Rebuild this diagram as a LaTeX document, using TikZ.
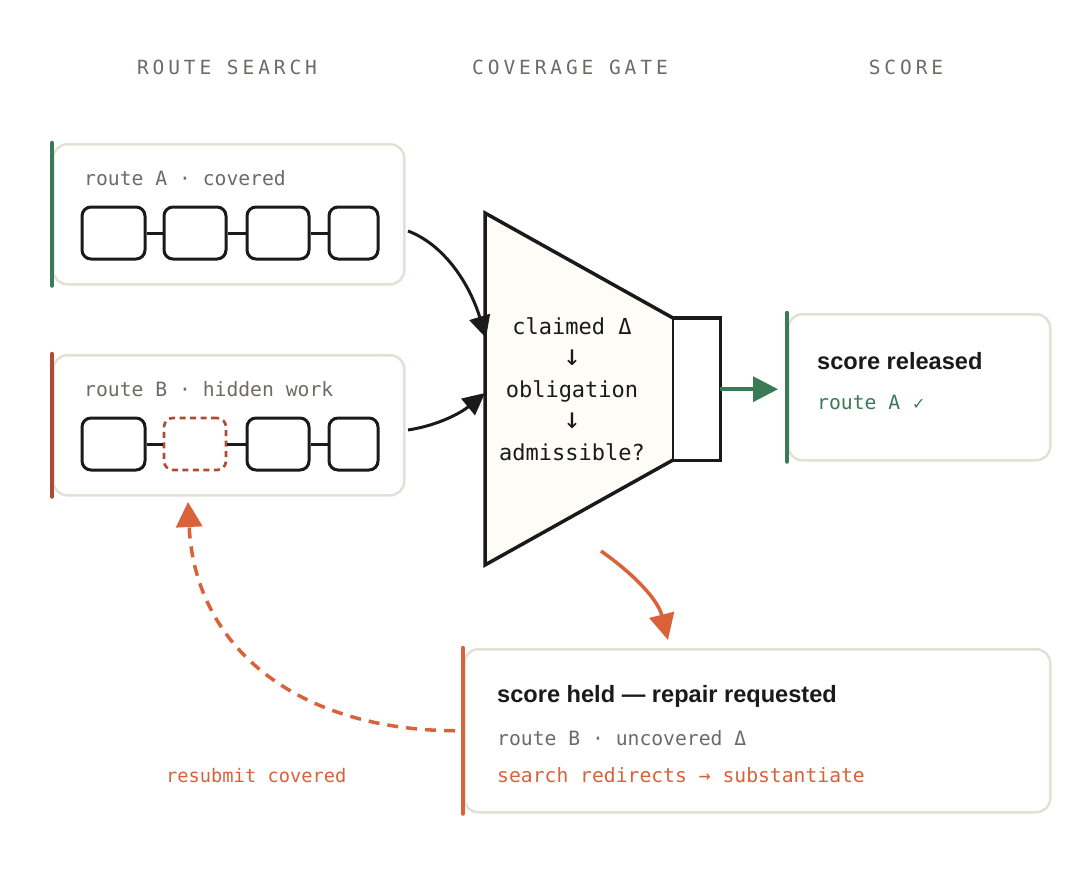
\documentclass[tikz,border=0pt]{standalone}
\usepackage{fontspec}
\setmainfont{Liberation Sans}
\setmonofont{DejaVu Sans Mono}
\newfontfamily\hdrfont[LetterSpace=20]{DejaVu Sans Mono}
\newfontfamily\symfont{DejaVu Sans}
\usetikzlibrary{arrows.meta}
\definecolor{cgreen}{HTML}{3B7A57}
\definecolor{cred}{HTML}{B04A35}
\definecolor{corange}{HTML}{D9623B}
\definecolor{cgray}{HTML}{6E6A66}
\definecolor{cborder}{HTML}{E4E0D6}
\definecolor{cink}{HTML}{1A1A1A}
\definecolor{ccream}{HTML}{FDFCF7}
\newcommand{\bigdown}{{\fontsize{29}{31.5}\selectfont ↓}}
\begin{document}
\begin{tikzpicture}[x=1pt,y=-1pt,
  panel/.style={draw=cborder, line width=2.5pt, rounded corners=14pt, fill=white, inner sep=0pt, anchor=north west},
  chip/.style={draw=cink, line width=3pt, rounded corners=9pt, minimum height=52pt, inner sep=0pt},
  hidchip/.style={draw=cred, line width=2.6pt, dash pattern=on 6pt off 4.5pt, rounded corners=9pt, minimum height=52pt, inner sep=0pt},
  link/.style={draw=cink, line width=3pt},
  bar/.style={line width=4.5pt, line cap=round},
  hdr/.style={text=cgray, font=\hdrfont\fontsize{19.5}{21}\selectfont, inner sep=0pt},
  mono/.style={font=\ttfamily\fontsize{19.7}{22}\selectfont, inner sep=0pt, anchor=west},
  title/.style={font=\bfseries\fontsize{23.6}{26}\selectfont, text=cink, inner sep=0pt, anchor=west},
  blackarrow/.style={draw=cink, line width=3pt, -{Triangle[length=22pt,width=21pt]}},
]
\useasboundingbox (0,0) rectangle (1088,884);
\fill[white] (0,0) rectangle (1088,884);

% headers
\node[hdr] (h1) at (227,67) {ROUTE SEARCH};
\node[hdr] (h2) at (570,67) {COVERAGE GATE};
\node[hdr] (h3) at (906,67) {SCORE};

% route A
\node[panel, minimum width=351pt, minimum height=140pt] (ra) at (52,143) {};
\draw[bar, cgreen] (ra.north west) -- (ra.south west);
\node[mono, text=cgray] (ral) at (84,178) {route A · covered};
\node[chip, minimum width=63pt] (a1) at (113.5,233) {};
\node[chip, minimum width=62pt] (a2) at (195,233) {};
\node[chip, minimum width=62pt] (a3) at (278,233) {};
\node[chip, minimum width=49pt] (a4) at (353.5,233) {};
\draw[link] (a1) -- (a2);
\draw[link] (a2) -- (a3);
\draw[link] (a3) -- (a4);

% route B
\node[panel, minimum width=351pt, minimum height=140pt] (rb) at (52,354) {};
\draw[bar, cred] (rb.north west) -- (rb.south west);
\node[mono, text=cgray] (rbl) at (84,389) {route B · hidden work};
\node[chip, minimum width=63pt] (b1) at (113.5,444) {};
\node[hidchip, minimum width=62pt] (b2) at (195,444) {};
\node[chip, minimum width=62pt] (b3) at (278,444) {};
\node[chip, minimum width=49pt] (b4) at (353.5,444) {};
\draw[link] (b1) -- (b2);
\draw[link] (b2) -- (b3);
\draw[link] (b3) -- (b4);

% gate
\coordinate (g1) at (485,213);
\coordinate (g2) at (673,318);
\coordinate (g3) at (673,460);
\coordinate (g4) at (485,565);
\fill[ccream] (g1) -- (g2) -- (g3) -- (g4) -- cycle;
\node[fill=white, minimum width=47pt, minimum height=142pt, anchor=north west, inner sep=0pt] (gout) at (673,318) {};
\draw[cink, line width=2pt] (g2) -- (g3);
\draw[cink, line width=3.5pt, line join=miter] (g2) -- (g1) -- (g4) -- (g3);
\draw[cink, line width=3.5pt, line join=miter] (gout.north west) -- (gout.north east) -- (gout.south east) -- (gout.south west);
\node[align=center, font=\ttfamily\fontsize{22}{31.5}\selectfont, text=cink, inner sep=0pt] (gtxt) at (572,389) {claimed Δ\\\bigdown\\obligation\\\bigdown\\admissible?};

% inputs to gate
\coordinate (aS) at (408,231);
\coordinate (gA) at (486,338);
\coordinate (bS) at (408,430);
\coordinate (gB) at (485,393);
\draw[blackarrow] (aS) .. controls (445,245) and (470,285) .. (gA);
\draw[blackarrow] (bS) .. controls (440,425) and (462,412) .. (gB);

% score released
\node[panel, minimum width=262pt, minimum height=146pt] (sr) at (787,313) {};
\draw[bar, cgreen] (sr.north west) -- (sr.south west);
\node[title] (srt) at (817,361) {score released};
\node[mono, text=cgreen] (srl) at (817,402) {route A {\symfont\fontsize{16}{18}\selectfont ✓}};
\draw[cgreen, line width=3.5pt, -{Triangle[length=25pt,width=25pt]}, shorten >=9pt] (gout.east) -- (gout.east -| sr.west);

% score held
\node[panel, minimum width=586pt, minimum height=163pt] (sh) at (463,648) {};
\draw[bar, corange] (sh.north west) -- (sh.south west);
\node[title] (sht) at (497,696) {score held — repair requested};
\node[mono, text=cgray] (shl) at (497,738) {route B · uncovered Δ};
\node[mono, text=corange] (shr) at (497,775) {search redirects → substantiate};

% hold arrow
\coordinate (rS) at (601,551);
\coordinate (rT) at (668,640);
\draw[corange, line width=3.5pt, -{Triangle[length=26pt,width=25pt]}] (rS) .. controls (635,575) and (658,600) .. (rT);

% resubmit
\coordinate (dS) at ([xshift=-8pt]sh.west);
\coordinate (dT) at (188,502);
\draw[corange, line width=3.5pt, dash pattern=on 11pt off 8pt, -{Triangle[length=25pt,width=26pt]}] (dS) .. controls (300,730) and (195,650) .. (dT);
\node[mono, text=corange, font=\ttfamily\fontsize{18.7}{21}\selectfont] (rsl) at (166,776) {resubmit covered};
\end{tikzpicture}
\end{document}
